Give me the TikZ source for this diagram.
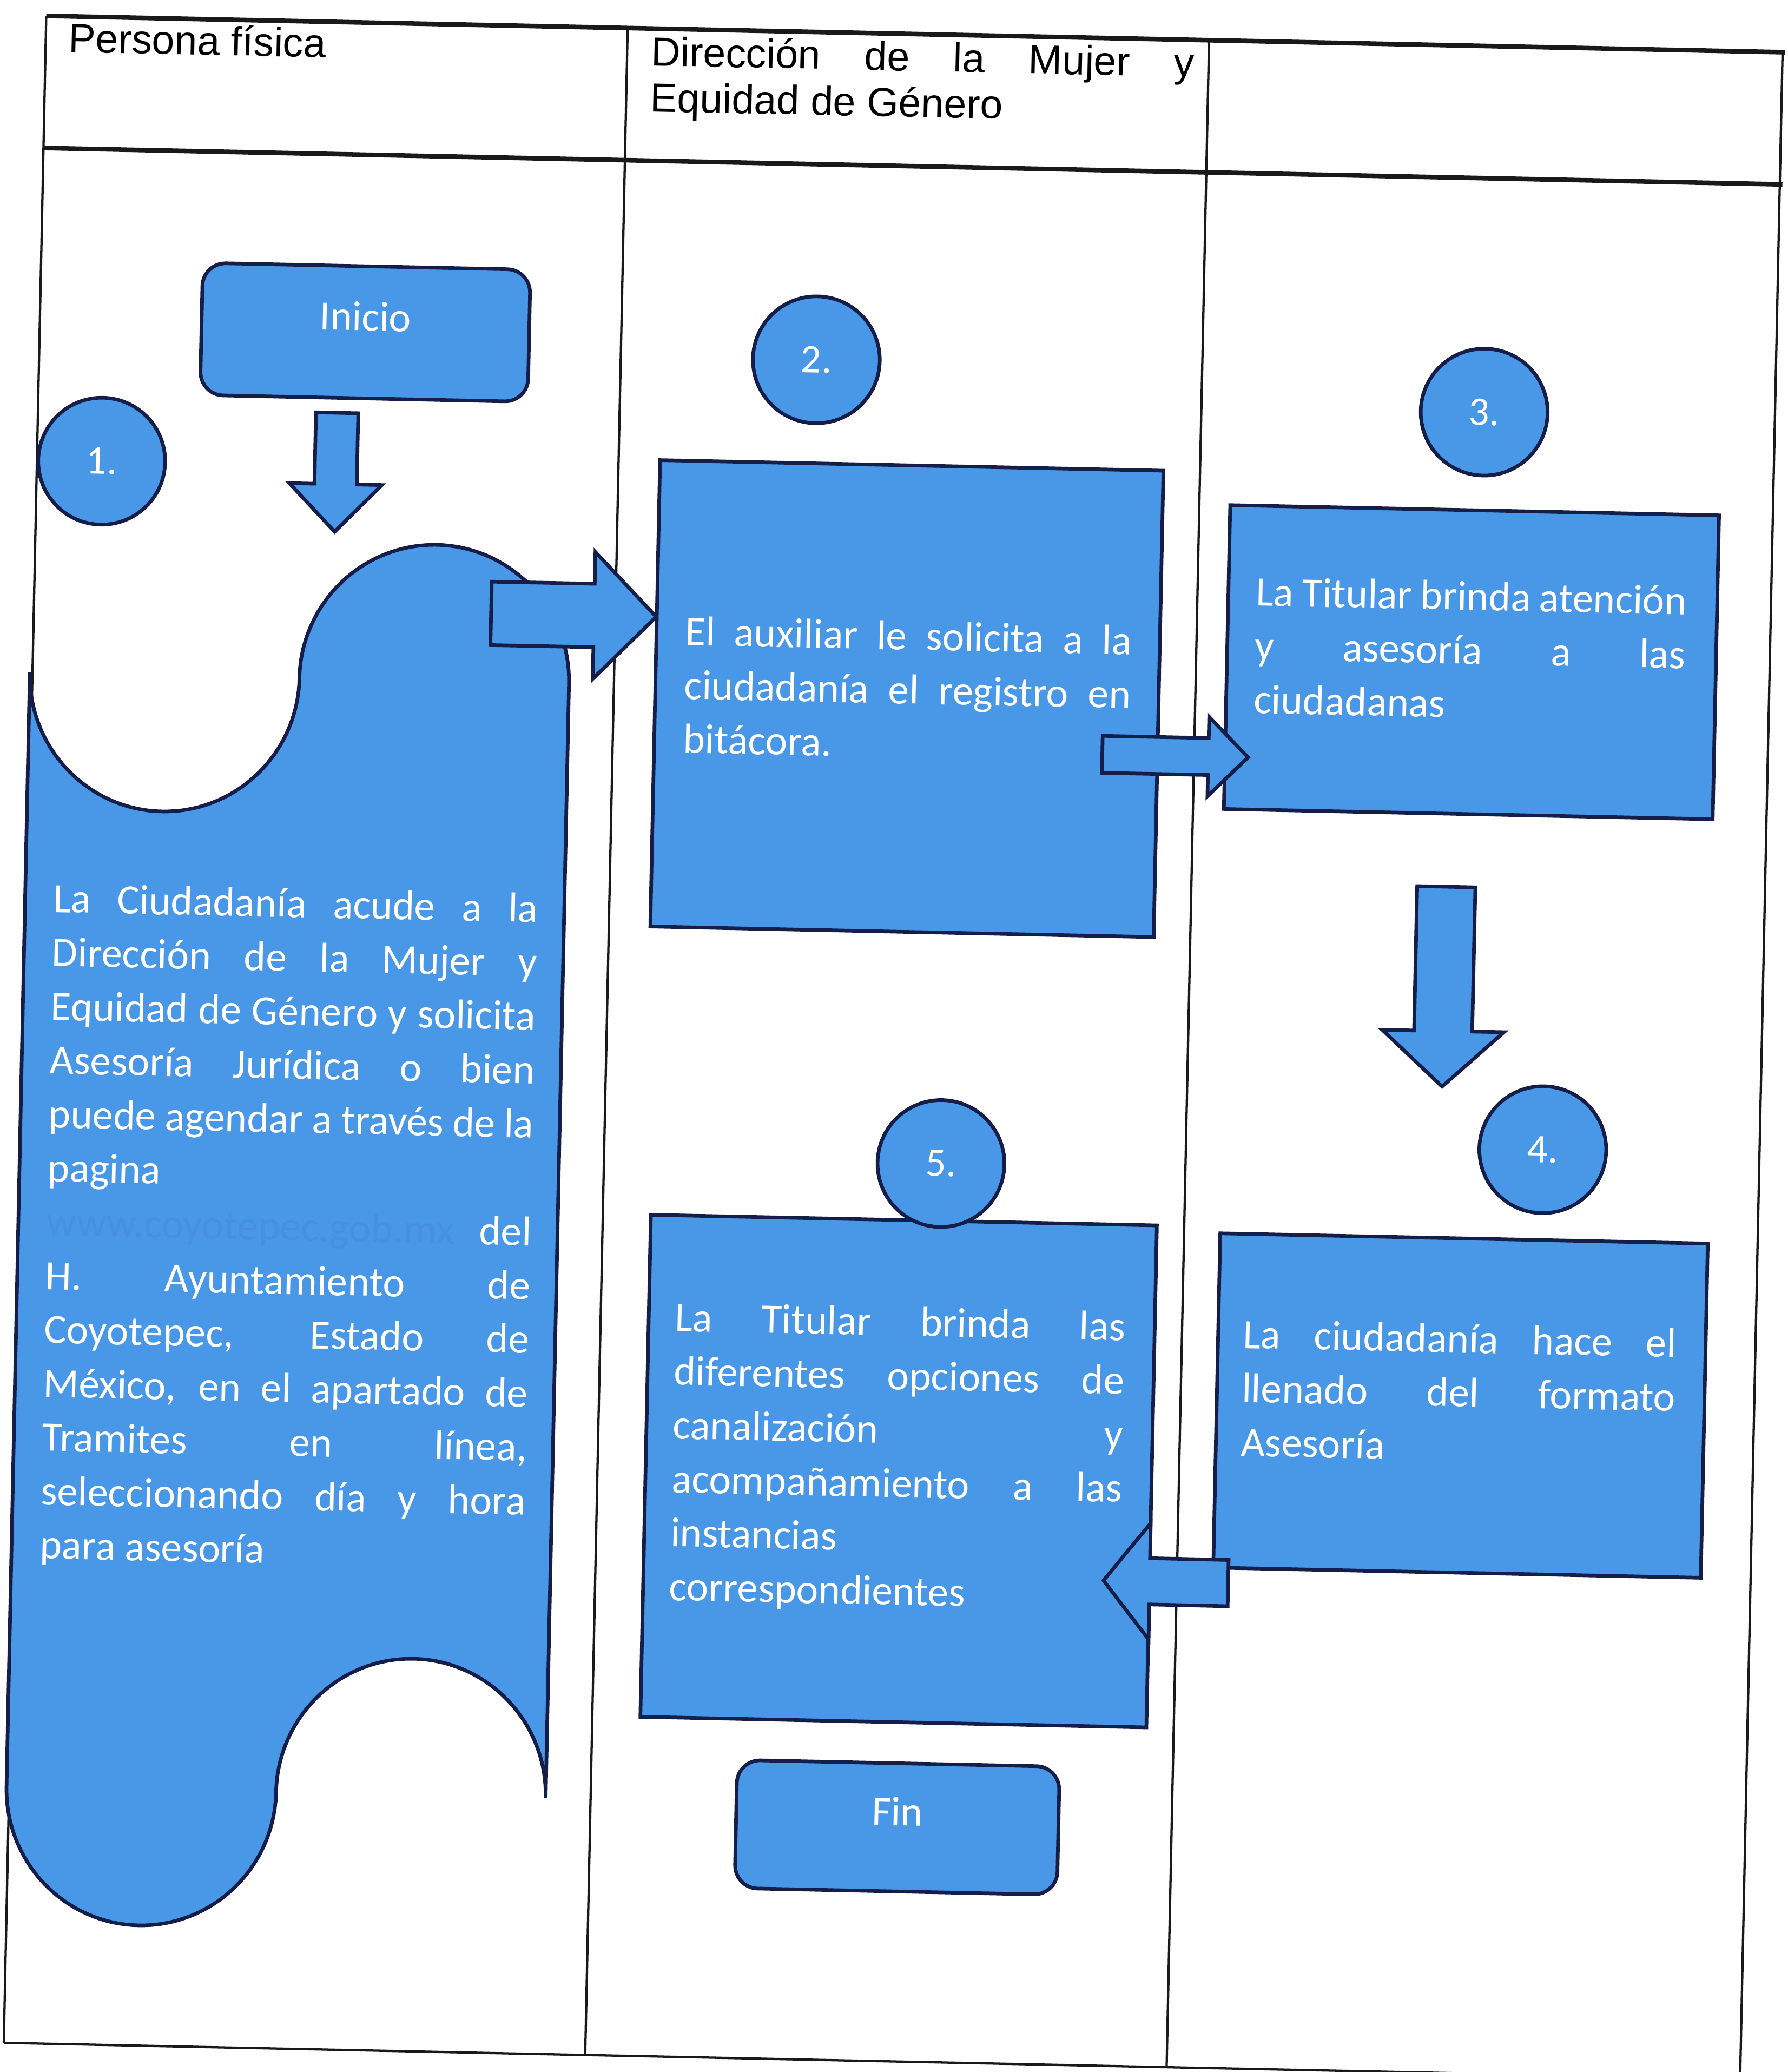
\documentclass[tikz,border=0pt]{standalone}
\usepackage{fontspec}
\setmainfont{Carlito}
\newfontfamily\arialf{Liberation Sans}
\usetikzlibrary{calc}
\hbadness=10000 \vbadness=10000 \hfuzz=40pt
\definecolor{boxblue}{RGB}{73,151,231}
\definecolor{navy}{RGB}{20,30,72}
\colorlet{urlblue}{boxblue!94!navy}
\tikzset{
  shapefill/.style={fill=boxblue, draw=navy, line width=0.055cm},
  procbox/.style={shapefill, rectangle, anchor=north west, inner sep=0pt},
  termbox/.style={procbox, rounded corners=0.35cm},
  stepcircle/.style={shapefill, circle, minimum size=1.92cm, inner sep=0pt, text=white, font=\fontsize{17.5pt}{21pt}\selectfont},
  termtext/.style={inner sep=0pt, text=white, font=\fontsize{18pt}{21pt}\selectfont},
  boxtext/.style={anchor=base west, inner sep=0pt, text=white, align=justify, font=\fontsize{18pt}{23.2pt}\selectfont},
  headtext/.style={anchor=base west, inner sep=0pt, text=black, font=\arialf\fontsize{17.5pt}{19.8pt}\selectfont},
  thickrule/.style={line width=0.07cm, draw=black!90},
  thinrule/.style={line width=0.035cm, draw=black!90},
}
% block arrow: start, end, shaft half width, head half width, head length
\newcommand{\blockarrow}[5]{%
  \coordinate (#1h) at ($(#2)!#5!(#1)$);
  \path[shapefill] ($(#1)!#3!90:(#2)$) -- ($(#1h)!#3!90:(#2)$) -- ($(#1h)!#4!90:(#2)$)
    -- (#2) -- ($(#1h)!#4!-90:(#2)$) -- ($(#1h)!#3!-90:(#2)$) -- ($(#1)!#3!-90:(#2)$) -- cycle;
}
\begin{document}
\begin{tikzpicture}
\useasboundingbox (0,0) rectangle (27.06,-31.36);
\begin{scope}[shift={(0.70,-0.24)}, rotate=-1.2, x=0.02cm, y=-0.02cm, transform shape]
  % table
  \draw[thickrule] (0,0) -- (1316,0);
  \draw[thickrule] (0,100) -- (1316,100);
  \draw[thinrule] (0,1534) -- (1316,1534);
  \draw[thinrule] (0,0) -- (0,1534);
  \draw[thinrule] (440,0) -- (440,1534);
  \draw[thinrule] (880,0) -- (880,1534);
  \draw[thinrule] (1314,0) -- (1314,1534);
  \node[headtext] (hpf) at (17,27) {Persona física};
  \node[headtext, text width=8.22cm, align=justify] (hdm) at (458,28) {Dirección de la Mujer y\linebreak Equidad de Género};

  % punched-tape shape
  \path[shapefill] (-2,497) .. controls (-2,554) and (44,600) .. (100,600)
     .. controls (156,600) and (202,554) .. (202,497)
     .. controls (202,440) and (248,394) .. (304,394)
     .. controls (360,394) and (406,440) .. (406,497)
     -- (406,1340)
     .. controls (406,1283) and (360,1237) .. (304,1237)
     .. controls (248,1237) and (202,1283) .. (202,1340)
     .. controls (202,1397) and (156,1443) .. (100,1443)
     .. controls (44,1443) and (-2,1397) .. (-2,1340) -- cycle;
  \node[boxtext, text width=7.34cm] (t1) at (19,678) {La Ciudadanía acude a la\linebreak Dirección de la Mujer y\linebreak Equidad de Género y solicita\linebreak Asesoría Jurídica o bien\linebreak puede agendar a través de la\linebreak pagina\hfill\linebreak {\color{urlblue}www.coyotepec.gob.mx}\hfill del\linebreak H. Ayuntamiento de\linebreak Coyotepec, Estado de\linebreak México, en el apartado de\linebreak Tramites en línea,\linebreak seleccionando día y hora\linebreak para asesoría};

  % boxes
  \node[termbox, minimum width=4.96cm, minimum height=2.0cm] (inicio) at (121,183) {};
  \node[procbox, minimum width=7.62cm, minimum height=7.06cm] (box2) at (470,325) {};
  \node[procbox, minimum width=7.40cm, minimum height=4.60cm] (box3) at (902,350) {};
  \node[procbox, minimum width=7.38cm, minimum height=5.06cm] (box4) at (906,901) {};
  \node[procbox, minimum width=7.66cm, minimum height=7.60cm] (box5) at (475,896) {};
  \node[termbox, minimum width=4.88cm, minimum height=1.94cm] (fin) at (549,1307) {};

  % arrows
  \coordinate (a1s) at ($(inicio.south)+(-20,10)$);
  \coordinate (a1e) at ($(inicio.south)+(-20,100)$);
  \blockarrow{a1s}{a1e}{0.32cm}{0.70cm}{0.72cm}
  \coordinate (a2s) at (346,445);
  \coordinate (a2e) at ($(box2.north west)+(1,120)$);
  \blockarrow{a2s}{a2e}{0.48cm}{0.96cm}{0.94cm}
  \coordinate (a3s) at ($(box2.north east)+(-43,217)$);
  \coordinate (a3e) at ($(box3.north west)+(19,192)$);
  \blockarrow{a3s}{a3e}{0.28cm}{0.60cm}{0.60cm}
  \coordinate (a4s) at ($(box3.south west)+(171,54)$);
  \coordinate (a4e) at ($(box4.north west)+(167,-113)$);
  \blockarrow{a4s}{a4e}{0.44cm}{0.92cm}{0.84cm}
  \coordinate (a5s) at ($(box4.north west)+(13,266)$);
  \coordinate (a5e) at ($(box5.north east)+(-36,271)$);
  \blockarrow{a5s}{a5e}{0.35cm}{0.88cm}{0.70cm}

  % step circles
  \node[stepcircle] (c1) at (49,336) {1.};
  \node[stepcircle] (c2) at (588,248) {2.};
  \node[stepcircle] (c3) at (1094,277) {3.};
  \node[stepcircle] (c4) at (1150,834) {4.};
  \node[stepcircle] (c5) at (695,854) {5.};

  % texts
  \node[termtext] (tinicio) at ($(inicio.center)+(0,-12)$) {Inicio};
  \node[termtext] (tfin) at ($(fin.center)+(0,-12)$) {Fin};
  \node[boxtext, text width=6.76cm] (t2) at ($(box2.north west)+(23,141)$) {El auxiliar le solicita a la\linebreak ciudadanía el registro en\linebreak bitácora.};
  \node[boxtext, text width=6.52cm] (t3) at ($(box3.north west)+(22,77)$) {La Titular brinda atención\linebreak y asesoría a las\linebreak ciudadanas};
  \node[boxtext, text width=6.56cm] (t4) at ($(box4.north west)+(20,88)$) {La ciudadanía hace el\linebreak llenado del formato\linebreak Asesoría};
  \node[boxtext, text width=6.82cm] (t5) at ($(box5.north west)+(21,89)$) {La Titular brinda las\linebreak diferentes opciones de\linebreak canalización y\linebreak acompañamiento a las\linebreak instancias\hfill\linebreak correspondientes};
\end{scope}
\end{tikzpicture}
\end{document}
